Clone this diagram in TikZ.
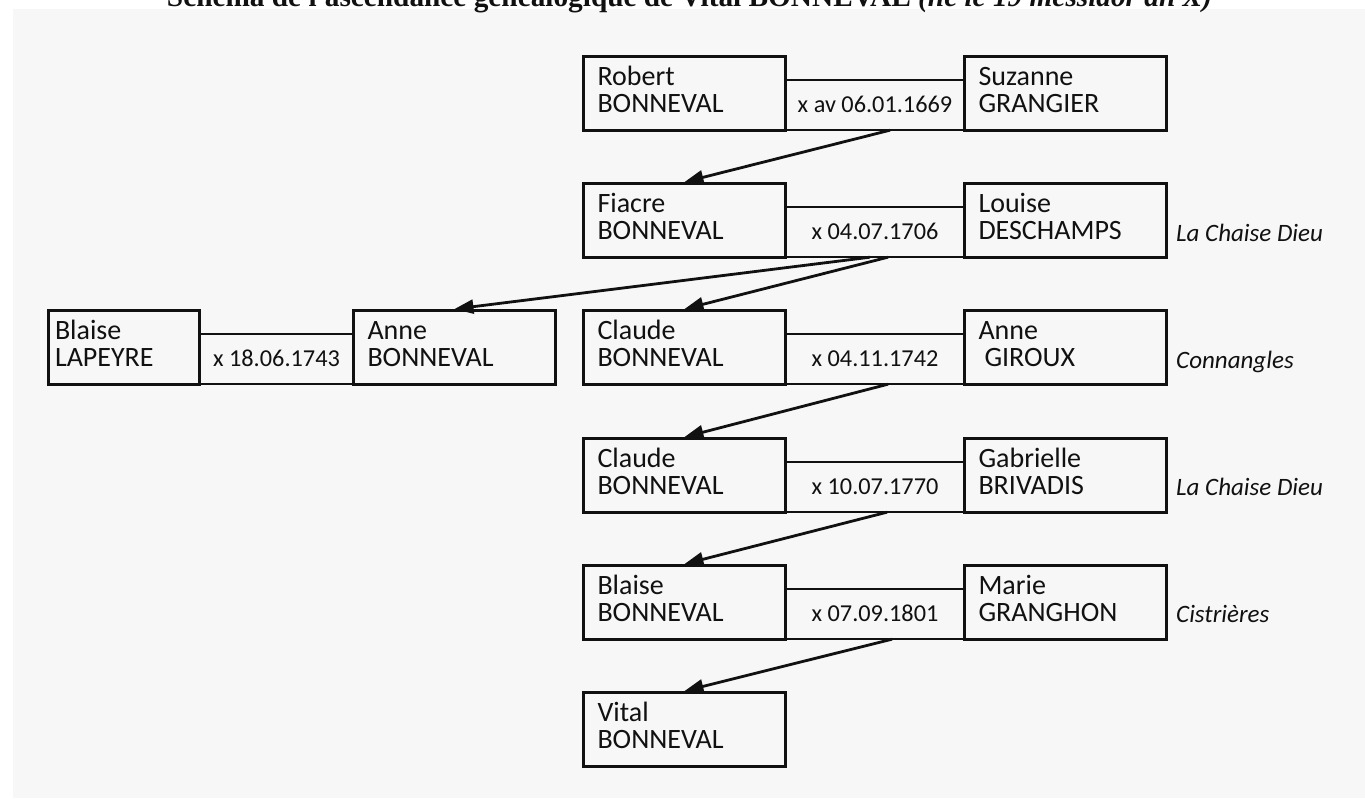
\documentclass[tikz,border=0pt]{standalone}
\usepackage{fontspec}
\setmainfont{Carlito}
\newfontfamily\titlefont{Liberation Serif}
\usetikzlibrary{arrows.meta,calc}
\definecolor{bg}{HTML}{F7F7F7}
\definecolor{ink}{HTML}{111111}
\newcommand\nm[2]{\rule{0pt}{20pt}#1\\#2\rule[-9pt]{0pt}{9pt}}
\begin{document}
\begin{tikzpicture}[x=1pt,y=-1pt,
 person/.style={draw=ink, line width=3pt, rectangle, anchor=north west, minimum height=73.5pt, inner xsep=14pt, inner ysep=0pt, text width=174pt, align=left, font=\fontsize{28}{27}\selectfont, text=ink},
 marr/.style={minimum height=50pt, inner sep=0pt, text height=14pt, text depth=0pt, font=\fontsize{24.3}{28}\selectfont, text=ink},
 place/.style={anchor=base west, inner sep=0pt, font=\fontsize{25}{30}\selectfont\itshape, text=ink},
 tie/.style={draw=ink, line width=1.2pt},
 arr/.style={draw=ink, line width=2.8pt, -{Triangle[length=19pt,width=14pt]}},
]
\useasboundingbox (0,0) rectangle (1365,798);
\clip (0,0) rectangle (1365,798);
\fill[white] (0,0) rectangle (1365,798);
\fill[bg] (13,9) rectangle (1365,798);

\node[anchor=base, inner sep=0pt, text=ink, font=\titlefont\bfseries\fontsize{29.3}{34}\selectfont] (title) at (689.5,6) {Schéma de l'ascendance généalogique de Vital BONNEVAL \textit{(né le 19 messidor an X)}};

% row 1
\node[person] (robert) at (582,55) {\nm{Robert}{BONNEVAL}};
\node[person] (suzanne) at (963,55) {\nm{Suzanne}{GRANGIER}};
% row 2
\node[person] (fiacre) at (582,182) {\nm{Fiacre}{BONNEVAL}};
\node[person] (louise) at (963,182) {\nm{Louise}{DESCHAMPS}};
% row 3
\node[person, inner xsep=6.5pt, text width=138pt] (lapeyre) at (47,309) {\nm{Blaise}{LAPEYRE}};
\node[person] (annebon) at (352,309) {\nm{Anne}{BONNEVAL}};
\node[person] (claude1) at (582,309) {\nm{Claude}{BONNEVAL}};
\node[person] (giroux) at (963,309) {\nm{Anne}{\hspace*{6pt}GIROUX}};
% row 4
\node[person] (claude2) at (582,437) {\nm{Claude}{BONNEVAL}};
\node[person] (gabrielle) at (963,437) {\nm{Gabrielle}{BRIVADIS}};
% row 5
\node[person] (blaise) at (582,564) {\nm{Blaise}{BONNEVAL}};
\node[person] (marie) at (963,564) {\nm{Marie}{GRANGHON}};
% row 6
\node[person] (vital) at (582,691) {\nm{Vital}{BONNEVAL}};

% marriage connectors
\newcommand\marriage[4]{%
  \draw[tie] ($(#1.north east)+(0,25)$) -- ($(#2.north west)+(0,25)$);
  \draw[tie] ($(#1.south east)+(0,-1.5)$) -- ($(#2.south west)+(0,-1.5)$);
  \node[marr] (#3) at ($(#1.north east)!0.5!(#2.north west)+(0,50)$) {#4};
}
\marriage{robert}{suzanne}{m1}{x av 06.01.1669}
\marriage{fiacre}{louise}{m2}{x 04.07.1706}
\marriage{lapeyre}{annebon}{mL}{x 18.06.1743}
\marriage{claude1}{giroux}{m3}{x 04.11.1742}
\marriage{claude2}{gabrielle}{m4}{x 10.07.1770}
\marriage{blaise}{marie}{m5}{x 07.09.1801}

% places
\node[place] (p2) at ($(louise.north east)+(8,59)$) {La Chaise Dieu};
\node[place] (p3) at ($(giroux.north east)+(8,59)$) {Connangles};
\node[place] (p4) at ($(gabrielle.north east)+(8,58)$) {La Chaise Dieu};
\node[place] (p5) at ($(marie.north east)+(8,58)$) {Cistrières};

% descent arrows
\draw[arr] ($(m1.south)+(15,0)$) -- (fiacre.north);
\draw[arr] ($(m2.south)+(-5,0)$) -- (annebon.north);
\draw[arr] ($(m2.south)+(13,0)$) -- (claude1.north);
\draw[arr] ($(m3.south)+(13,0)$) -- (claude2.north);
\draw[arr] ($(m4.south)+(12,0)$) -- (blaise.north);
\draw[arr] ($(m5.south)+(17,0)$) -- (vital.north);
\end{tikzpicture}
\end{document}
